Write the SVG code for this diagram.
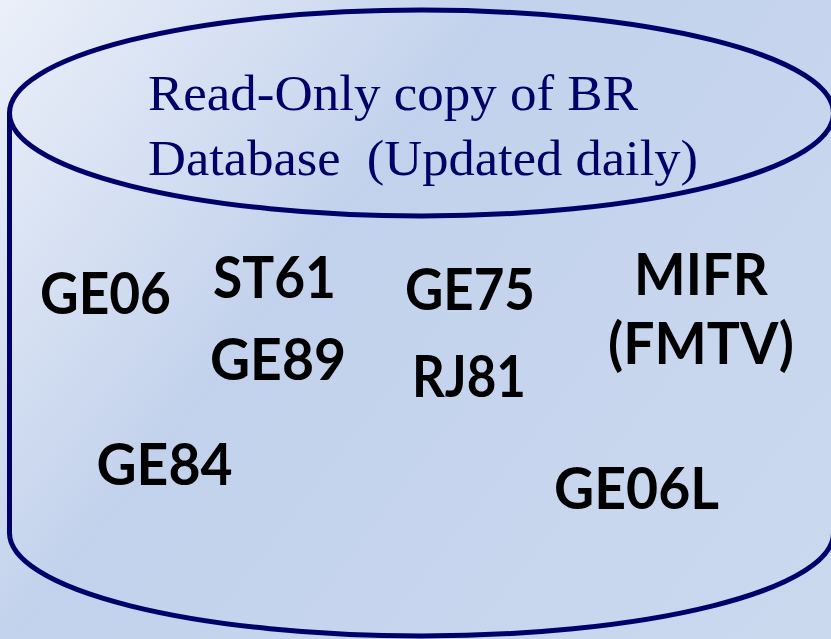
<svg xmlns="http://www.w3.org/2000/svg" width="831" height="639" viewBox="0 0 831 639">
  <defs>
    <linearGradient id="bg" x1="0" y1="0" x2="831" y2="639" gradientUnits="userSpaceOnUse">
      <stop offset="0" stop-color="#ebf0f9"/>
      <stop offset="0.38" stop-color="#c3d2ec"/>
      <stop offset="1" stop-color="#cbd9ef"/>
    </linearGradient>
    <style>
      .outline { fill: none; stroke: #00006a; stroke-width: 5; }
      .title { font-family: "Liberation Serif", "Times New Roman", serif; font-size: 50px; fill: #000066; }
      .lbl { font-family: Lato, "Liberation Sans", Arial, sans-serif; font-weight: bold; font-size: 58px; fill: #000000; }
    </style>
  </defs>
  <rect x="0" y="0" width="831" height="639" fill="url(#bg)"/>

  <g id="cylinder">
    <path class="outline" d="M 9.5 113 L 9.5 533 A 412 103 0 0 0 833.5 533 L 833.5 113"/>
    <ellipse class="outline" cx="421.5" cy="113" rx="412" ry="103"/>
    <text class="title" x="148" y="110" textLength="490" lengthAdjust="spacingAndGlyphs">Read-Only copy of BR</text>
    <text class="title" x="148" y="175" textLength="550" lengthAdjust="spacingAndGlyphs" xml:space="preserve">Database  (Updated daily)</text>
  </g>

  <g id="node-GE06"><text class="lbl" x="40" y="314" textLength="131" lengthAdjust="spacingAndGlyphs">GE06</text></g>
  <g id="node-ST61"><text class="lbl" x="213" y="297.5" textLength="123" lengthAdjust="spacingAndGlyphs">ST61</text></g>
  <g id="node-GE89"><text class="lbl" x="210" y="380" textLength="136" lengthAdjust="spacingAndGlyphs">GE89</text></g>
  <g id="node-GE75"><text class="lbl" x="405" y="309.5" textLength="130" lengthAdjust="spacingAndGlyphs">GE75</text></g>
  <g id="node-RJ81"><text class="lbl" x="412" y="397" textLength="114" lengthAdjust="spacingAndGlyphs">RJ81</text></g>
  <g id="node-MIFR">
    <text class="lbl" x="634" y="295" textLength="134" lengthAdjust="spacingAndGlyphs">MIFR</text>
    <text class="lbl" x="608" y="363.5" textLength="186" lengthAdjust="spacingAndGlyphs">(FMTV)</text>
  </g>
  <g id="node-GE84"><text class="lbl" x="96.5" y="485" textLength="136" lengthAdjust="spacingAndGlyphs">GE84</text></g>
  <g id="node-GE06L"><text class="lbl" x="554" y="508.5" textLength="165" lengthAdjust="spacingAndGlyphs">GE06L</text></g>

  <g id="connectors"></g>
</svg>
